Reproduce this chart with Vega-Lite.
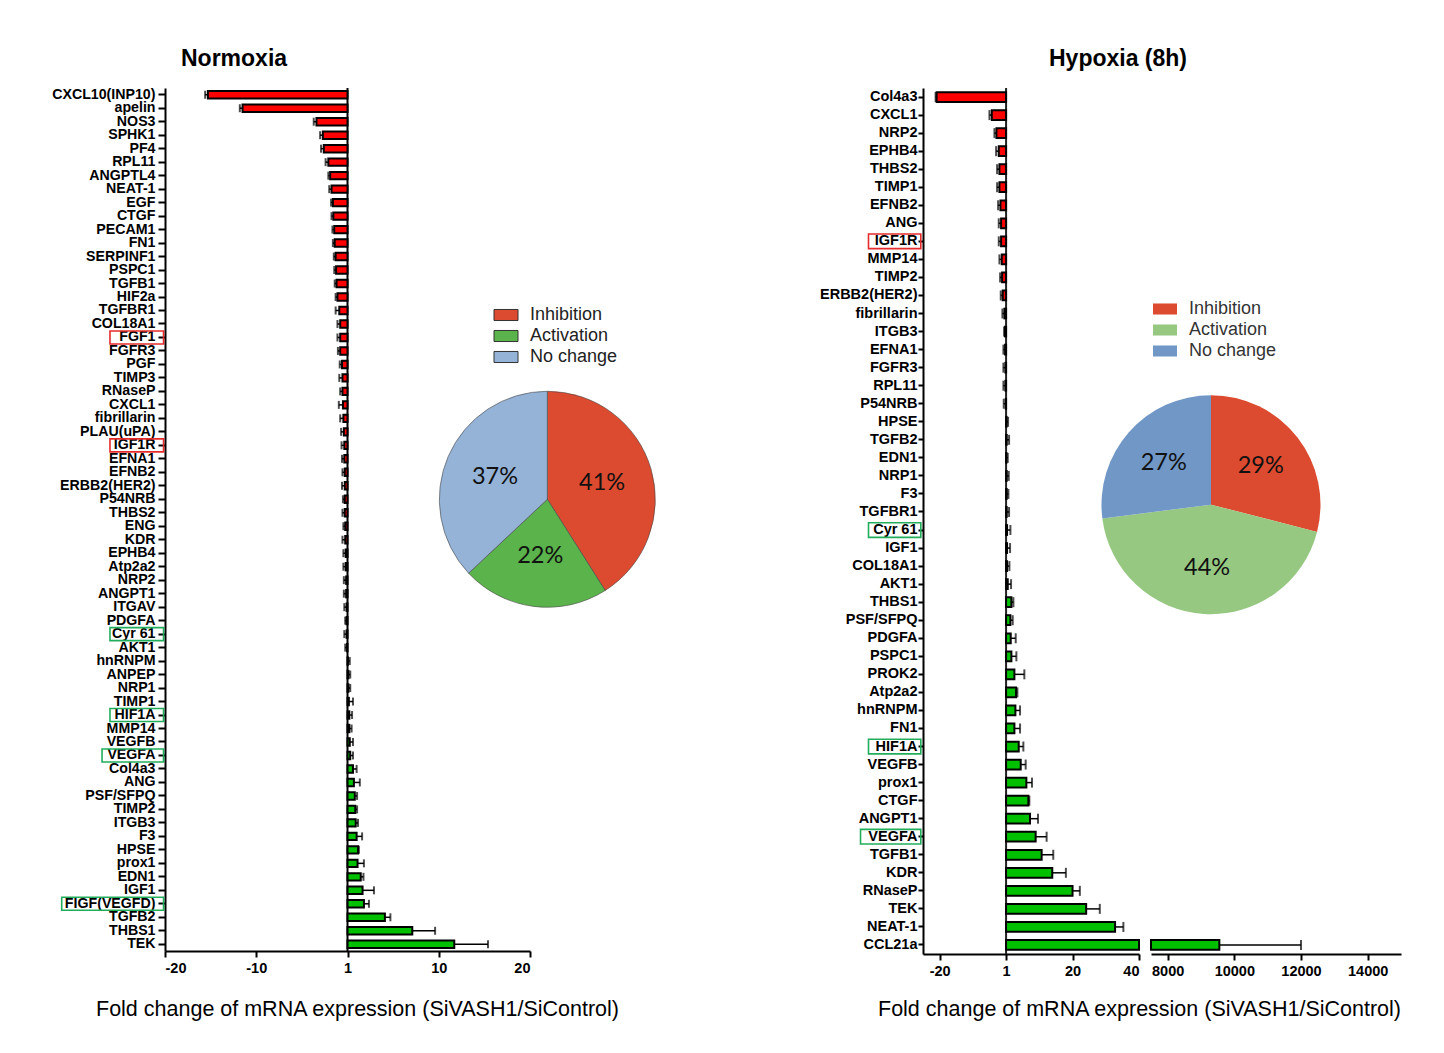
{
  "$schema": "https://vega.github.io/schema/vega-lite/v6.json",
  "background": "white",
  "padding": {"left": 51, "top": 48, "right": 10, "bottom": 10},
  "spacing": 162,
  "resolve": {"scale": {"color": "independent"}, "legend": {"color": "independent"}},
  "config": {
    "view": {"stroke": null},
    "font": "Liberation Sans",
    "axis": {"domainColor": "black", "domainWidth": 2, "tickColor": "black", "tickWidth": 2, "labelColor": "black", "labelFont": "Liberation Sans", "labelFontWeight": "bold", "grid": false, "titleFont": "Liberation Sans", "titleFontWeight": "normal", "titleFontSize": 21.5, "titleColor": "black"}
  },
  "datasets": {
    "normoxia": [
      {"gene": "CXCL10(INP10)", "fc": -15.3, "errEnd": -15.6},
      {"gene": "apelin", "fc": -11.5, "errEnd": -11.8},
      {"gene": "NOS3", "fc": -3.4, "errEnd": -3.7},
      {"gene": "SPHK1", "fc": -2.7, "errEnd": -3.0},
      {"gene": "PF4", "fc": -2.6, "errEnd": -2.9},
      {"gene": "RPL11", "fc": -2.1, "errEnd": -2.4},
      {"gene": "ANGPTL4", "fc": -1.9, "errEnd": -2.1},
      {"gene": "NEAT-1", "fc": -1.75, "errEnd": -2.0},
      {"gene": "EGF", "fc": -1.6, "errEnd": -1.8},
      {"gene": "CTGF", "fc": -1.55, "errEnd": -1.75},
      {"gene": "PECAM1", "fc": -1.45, "errEnd": -1.65},
      {"gene": "FN1", "fc": -1.4, "errEnd": -1.6},
      {"gene": "SERPINF1", "fc": -1.3, "errEnd": -1.5},
      {"gene": "PSPC1", "fc": -1.25, "errEnd": -1.45},
      {"gene": "TGFB1", "fc": -1.2, "errEnd": -1.4},
      {"gene": "HIF2a", "fc": -1.1, "errEnd": -1.3},
      {"gene": "TGFBR1", "fc": -0.9, "errEnd": -1.3},
      {"gene": "COL18A1", "fc": -0.8, "errEnd": -1.1},
      {"gene": "FGF1", "fc": -0.8, "errEnd": -1.1, "highlight": "inhibition"},
      {"gene": "FGFR3", "fc": -0.8, "errEnd": -1.05},
      {"gene": "PGF", "fc": -0.6, "errEnd": -0.85},
      {"gene": "TIMP3", "fc": -0.55, "errEnd": -0.9},
      {"gene": "RNaseP", "fc": -0.55, "errEnd": -0.8},
      {"gene": "CXCL1", "fc": -0.5, "errEnd": -0.95},
      {"gene": "fibrillarin", "fc": -0.45, "errEnd": -0.8},
      {"gene": "PLAU(uPA)", "fc": -0.4, "errEnd": -0.7},
      {"gene": "IGF1R", "fc": -0.35, "errEnd": -0.65, "highlight": "inhibition"},
      {"gene": "EFNA1", "fc": -0.35, "errEnd": -0.6},
      {"gene": "EFNB2", "fc": -0.3, "errEnd": -0.55},
      {"gene": "ERBB2(HER2)", "fc": -0.3, "errEnd": -0.6},
      {"gene": "P54NRB", "fc": -0.3, "errEnd": -0.5},
      {"gene": "THBS2", "fc": -0.3, "errEnd": -0.55},
      {"gene": "ENG", "fc": -0.25, "errEnd": -0.45},
      {"gene": "KDR", "fc": -0.25, "errEnd": -0.55},
      {"gene": "EPHB4", "fc": -0.2, "errEnd": -0.45},
      {"gene": "Atp2a2", "fc": -0.2, "errEnd": -0.45},
      {"gene": "NRP2", "fc": -0.15, "errEnd": -0.4},
      {"gene": "ANGPT1", "fc": -0.15, "errEnd": -0.4},
      {"gene": "ITGAV", "fc": -0.1, "errEnd": -0.35},
      {"gene": "PDGFA", "fc": -0.1, "errEnd": -0.25},
      {"gene": "Cyr 61", "fc": -0.1, "errEnd": -0.35, "highlight": "activation"},
      {"gene": "AKT1", "fc": -0.05, "errEnd": -0.25},
      {"gene": "hnRNPM", "fc": 0.05, "errEnd": 0.25},
      {"gene": "ANPEP", "fc": 0.1, "errEnd": 0.3},
      {"gene": "NRP1", "fc": 0.1, "errEnd": 0.3},
      {"gene": "TIMP1", "fc": 0.15, "errEnd": 0.6},
      {"gene": "HIF1A", "fc": 0.2, "errEnd": 0.5, "highlight": "activation"},
      {"gene": "MMP14", "fc": 0.2, "errEnd": 0.45},
      {"gene": "VEGFB", "fc": 0.25, "errEnd": 0.6},
      {"gene": "VEGFA", "fc": 0.3, "errEnd": 0.6, "highlight": "activation"},
      {"gene": "Col4a3", "fc": 0.6, "errEnd": 1.0},
      {"gene": "ANG", "fc": 0.7, "errEnd": 1.35},
      {"gene": "PSF/SFPQ", "fc": 0.8, "errEnd": 1.05},
      {"gene": "TIMP2", "fc": 0.85, "errEnd": 1.05},
      {"gene": "ITGB3", "fc": 0.9, "errEnd": 1.15},
      {"gene": "F3", "fc": 1.0, "errEnd": 1.6},
      {"gene": "HPSE", "fc": 1.15, "errEnd": 1.25},
      {"gene": "prox1", "fc": 1.1, "errEnd": 1.8},
      {"gene": "EDN1", "fc": 1.45, "errEnd": 1.75},
      {"gene": "IGF1", "fc": 1.65, "errEnd": 2.9},
      {"gene": "FIGF(VEGFD)", "fc": 1.8, "errEnd": 2.35, "highlight": "activation"},
      {"gene": "TGFB2", "fc": 4.1, "errEnd": 4.7},
      {"gene": "THBS1", "fc": 7.1, "errEnd": 9.6},
      {"gene": "TEK", "fc": 11.7, "errEnd": 15.4}
    ],
    "hypoxia": [
      {"gene": "Col4a3", "fc": -20.9, "errEnd": -21.2},
      {"gene": "CXCL1", "fc": -4.3, "errEnd": -5.0},
      {"gene": "NRP2", "fc": -2.9, "errEnd": -3.5},
      {"gene": "EPHB4", "fc": -2.2, "errEnd": -3.0},
      {"gene": "THBS2", "fc": -2.0, "errEnd": -2.7},
      {"gene": "TIMP1", "fc": -2.0, "errEnd": -2.7},
      {"gene": "EFNB2", "fc": -1.7, "errEnd": -2.4},
      {"gene": "ANG", "fc": -1.5, "errEnd": -2.2},
      {"gene": "IGF1R", "fc": -1.5, "errEnd": -2.2, "highlight": "inhibition"},
      {"gene": "MMP14", "fc": -1.3, "errEnd": -2.0},
      {"gene": "TIMP2", "fc": -1.2, "errEnd": -1.8},
      {"gene": "ERBB2(HER2)", "fc": -1.0, "errEnd": -1.6},
      {"gene": "fibrillarin", "fc": -0.5, "errEnd": -1.1},
      {"gene": "ITGB3", "fc": -0.3, "errEnd": -0.6},
      {"gene": "EFNA1", "fc": -0.3, "errEnd": -0.8},
      {"gene": "FGFR3", "fc": -0.2, "errEnd": -0.8},
      {"gene": "RPL11", "fc": -0.2, "errEnd": -0.8},
      {"gene": "P54NRB", "fc": -0.1, "errEnd": -0.7},
      {"gene": "HPSE", "fc": 0.15, "errEnd": 0.6},
      {"gene": "TGFB2", "fc": 0.2, "errEnd": 0.9},
      {"gene": "EDN1", "fc": 0.1, "errEnd": 0.5},
      {"gene": "NRP1", "fc": 0.2, "errEnd": 0.8},
      {"gene": "F3", "fc": 0.2, "errEnd": 0.7},
      {"gene": "TGFBR1", "fc": 0.2, "errEnd": 0.9},
      {"gene": "Cyr 61", "fc": 0.3, "errEnd": 1.3, "highlight": "activation"},
      {"gene": "IGF1", "fc": 0.3, "errEnd": 1.2},
      {"gene": "COL18A1", "fc": 0.3, "errEnd": 1.0},
      {"gene": "AKT1", "fc": 0.5, "errEnd": 1.5},
      {"gene": "THBS1", "fc": 1.6, "errEnd": 2.2},
      {"gene": "PSF/SFPQ", "fc": 1.3, "errEnd": 2.0},
      {"gene": "PDGFA", "fc": 1.4, "errEnd": 2.9},
      {"gene": "PSPC1", "fc": 1.6, "errEnd": 3.1},
      {"gene": "PROK2", "fc": 2.5, "errEnd": 5.5},
      {"gene": "Atp2a2", "fc": 3.0, "errEnd": 3.4},
      {"gene": "hnRNPM", "fc": 2.8, "errEnd": 4.2},
      {"gene": "FN1", "fc": 2.5, "errEnd": 4.2},
      {"gene": "HIF1A", "fc": 3.8, "errEnd": 5.2, "highlight": "activation"},
      {"gene": "VEGFB", "fc": 4.4, "errEnd": 5.9},
      {"gene": "prox1", "fc": 6.1, "errEnd": 7.8},
      {"gene": "CTGF", "fc": 6.7, "errEnd": 7.0},
      {"gene": "ANGPT1", "fc": 7.2, "errEnd": 9.6},
      {"gene": "VEGFA", "fc": 8.9, "errEnd": 12.2, "highlight": "activation"},
      {"gene": "TGFB1", "fc": 10.7, "errEnd": 14.2},
      {"gene": "KDR", "fc": 13.9, "errEnd": 18.0},
      {"gene": "RNaseP", "fc": 20.0, "errEnd": 22.2},
      {"gene": "TEK", "fc": 24.1, "errEnd": 28.2},
      {"gene": "NEAT-1", "fc": 32.8, "errEnd": 35.3},
      {"gene": "CCL21a", "fc": 9550, "errEnd": 12000}
    ],
    "pie1": [
      {"category": "Inhibition", "pct": 0.41, "idx": 1},
      {"category": "Activation", "pct": 0.22, "idx": 2},
      {"category": "No change", "pct": 0.37, "idx": 3}
    ],
    "pie2": [
      {"category": "Inhibition", "pct": 0.29, "idx": 1},
      {"category": "Activation", "pct": 0.44, "idx": 2},
      {"category": "No change", "pct": 0.27, "idx": 3}
    ]
  },
  "hconcat": [
    {
      "title": {"text": "Normoxia", "anchor": "start", "frame": "group", "dx": 16, "fontSize": 23, "font": "Liberation Sans", "fontWeight": "bold", "color": "black", "offset": 16},
      "width": 365,
      "height": 863,
      "layer": [
        {
          "data": {"values": [{}]},
          "mark": {"type": "rule", "color": "black", "strokeWidth": 2},
          "encoding": {"x": {"datum": 0, "type": "quantitative"}}
        },
        {
          "data": {"name": "normoxia"},
          "encoding": {
            "y": {"field": "gene", "type": "nominal", "scale": {"domain": ["CXCL10(INP10)", "apelin", "NOS3", "SPHK1", "PF4", "RPL11", "ANGPTL4", "NEAT-1", "EGF", "CTGF", "PECAM1", "FN1", "SERPINF1", "PSPC1", "TGFB1", "HIF2a", "TGFBR1", "COL18A1", "FGF1", "FGFR3", "PGF", "TIMP3", "RNaseP", "CXCL1", "fibrillarin", "PLAU(uPA)", "IGF1R", "EFNA1", "EFNB2", "ERBB2(HER2)", "P54NRB", "THBS2", "ENG", "KDR", "EPHB4", "Atp2a2", "NRP2", "ANGPT1", "ITGAV", "PDGFA", "Cyr 61", "AKT1", "hnRNPM", "ANPEP", "NRP1", "TIMP1", "HIF1A", "MMP14", "VEGFB", "VEGFA", "Col4a3", "ANG", "PSF/SFPQ", "TIMP2", "ITGB3", "F3", "HPSE", "prox1", "EDN1", "IGF1", "FIGF(VEGFD)", "TGFB2", "THBS1", "TEK"], "paddingInner": 0.45, "paddingOuter": 0.225}, "axis": {"title": null, "labelFontSize": 14.2, "labelPadding": 3, "tickSize": 7, "labelOverlap": false}}
          },
          "layer": [
            {
              "mark": {"type": "rule", "color": "black", "strokeWidth": 1.5},
              "encoding": {"x": {"field": "fc", "type": "quantitative"}, "x2": {"field": "errEnd"}}
            },
            {
              "mark": {"type": "tick", "color": "black", "thickness": 2, "size": 8},
              "encoding": {"x": {"field": "errEnd", "type": "quantitative"}}
            },
            {
              "mark": {"type": "bar", "stroke": "black", "strokeWidth": 2},
              "encoding": {
                "x": {"field": "fc", "type": "quantitative", "scale": {"domain": [-20, 20], "nice": false, "zero": false}, "axis": {"values": [-20, -10, 0, 10, 20], "labelExpr": "datum.value == 0 ? '1' : (datum.value < 0 ? '-' + abs(datum.value) : '' + datum.value)", "title": "Fold change of mRNA expression (SiVASH1/SiControl)", "titleX": 192, "titlePadding": 24, "labelFontSize": 14.5, "labelPadding": 4, "tickSize": 6}},
                "fill": {"condition": {"test": "datum.fc < 0", "value": "#ff0000"}, "value": "#00c000"}
              }
            },
            {
              "transform": [{"filter": "datum.highlight != null && datum.gene != 'VEGFA' && datum.gene != 'FIGF(VEGFD)'"}],
              "mark": {"type": "rect", "filled": false, "strokeWidth": 1.6, "height": {"band": 1.75}},
              "encoding": {"x": {"datum": -26.03, "type": "quantitative"}, "x2": {"datum": -20.16}, "stroke": {"field": "highlight", "type": "nominal", "scale": {"domain": ["inhibition", "activation"], "range": ["#e52b2b", "#22ad5c"]}, "legend": null}}
            },
            {
              "transform": [{"filter": "datum.gene == 'VEGFA'"}],
              "mark": {"type": "rect", "filled": false, "strokeWidth": 1.6, "height": {"band": 1.75}},
              "encoding": {"x": {"datum": -26.9, "type": "quantitative"}, "x2": {"datum": -20.16}, "stroke": {"field": "highlight", "type": "nominal", "legend": null}}
            },
            {
              "transform": [{"filter": "datum.gene == 'FIGF(VEGFD)'"}],
              "mark": {"type": "rect", "filled": false, "strokeWidth": 1.6, "height": {"band": 1.75}},
              "encoding": {"x": {"datum": -31.32, "type": "quantitative"}, "x2": {"datum": -20.16}, "stroke": {"field": "highlight", "type": "nominal", "legend": null}}
            }
          ]
        },
        {
          "data": {"name": "pie1"},
          "encoding": {
            "x": {"datum": 21.9, "type": "quantitative"},
            "y": {"datum": "P54NRB", "type": "nominal"},
            "theta": {"field": "pct", "type": "quantitative", "stack": true},
            "order": {"field": "idx", "type": "quantitative"}
          },
          "layer": [
            {
              "mark": {"type": "arc", "radius": 108, "stroke": "#444", "strokeWidth": 0.6},
              "encoding": {"color": {"field": "category", "type": "nominal", "scale": {"domain": ["Inhibition", "Activation", "No change"], "range": ["#dc4b2f", "#5ab34b", "#94b3d7"]}, "legend": {"orient": "none", "legendX": 332, "legendY": 218, "title": null, "symbolType": "M-2,-0.92H2V0.92H-2Z", "symbolSize": 144, "symbolStrokeColor": "#333", "symbolStrokeWidth": 1, "labelFontSize": 18, "labelFont": "Liberation Sans", "labelColor": "#222", "labelOffset": 15, "rowPadding": 3, "padding": 0}}}
            },
            {
              "mark": {"type": "text", "radius": 57, "font": "Lato", "fontSize": 23.5, "color": "#111"},
              "encoding": {"text": {"field": "pct", "type": "quantitative", "format": ".0%"}}
            }
          ]
        }
      ]
    },
    {
      "title": {"text": "Hypoxia (8h)", "anchor": "start", "frame": "group", "dx": 126, "fontSize": 23, "font": "Liberation Sans", "fontWeight": "bold", "color": "black", "offset": 16},
      "width": 478,
      "height": 866,
      "resolve": {"scale": {"x": "independent"}, "axis": {"x": "independent"}},
      "layer": [
        {
          "layer": [
            {
              "data": {"values": [{}]},
              "mark": {"type": "rule", "color": "#222", "strokeWidth": 2},
              "encoding": {"x": {"datum": 0, "type": "quantitative", "scale": {"domain": [-25, 40], "range": [0, 216], "nice": false, "zero": false, "clamp": true}, "axis": {"orient": "bottom", "values": [-20, 0, 20, 40], "labelExpr": "datum.value == 0 ? '1' : (datum.value < 0 ? '-' + abs(datum.value) : '' + datum.value)", "title": "Fold change of mRNA expression (SiVASH1/SiControl)", "titleX": 216, "titlePadding": 21, "labelFontSize": 14.5, "labelPadding": 4, "tickSize": 6}}}
            },
            {
              "data": {"name": "hypoxia"},
              "transform": [{"filter": "datum.gene != 'CCL21a'"}],
              "mark": {"type": "rule", "color": "black", "strokeWidth": 1.5},
              "encoding": {
                "y": {"field": "gene", "type": "nominal"},
                "x": {"field": "fc", "type": "quantitative", "scale": {"domain": [-25, 40], "range": [0, 216], "nice": false, "zero": false, "clamp": true}, "axis": {"orient": "bottom", "values": [-20, 0, 20, 40], "labelExpr": "datum.value == 0 ? '1' : (datum.value < 0 ? '-' + abs(datum.value) : '' + datum.value)", "title": "Fold change of mRNA expression (SiVASH1/SiControl)", "titleX": 216, "titlePadding": 21, "labelFontSize": 14.5, "labelPadding": 4, "tickSize": 6}},
                "x2": {"field": "errEnd"}
              }
            },
            {
              "data": {"name": "hypoxia"},
              "transform": [{"filter": "datum.gene != 'CCL21a'"}],
              "mark": {"type": "tick", "color": "black", "thickness": 2, "size": 10},
              "encoding": {
                "y": {"field": "gene", "type": "nominal"},
                "x": {"field": "errEnd", "type": "quantitative"}
              }
            },
            {
              "data": {"name": "hypoxia"},
              "mark": {"type": "bar", "stroke": "black", "strokeWidth": 2},
              "encoding": {
                "y": {"field": "gene", "type": "nominal", "scale": {"domain": ["Col4a3", "CXCL1", "NRP2", "EPHB4", "THBS2", "TIMP1", "EFNB2", "ANG", "IGF1R", "MMP14", "TIMP2", "ERBB2(HER2)", "fibrillarin", "ITGB3", "EFNA1", "FGFR3", "RPL11", "P54NRB", "HPSE", "TGFB2", "EDN1", "NRP1", "F3", "TGFBR1", "Cyr 61", "IGF1", "COL18A1", "AKT1", "THBS1", "PSF/SFPQ", "PDGFA", "PSPC1", "PROK2", "Atp2a2", "hnRNPM", "FN1", "HIF1A", "VEGFB", "prox1", "CTGF", "ANGPT1", "VEGFA", "TGFB1", "KDR", "RNaseP", "TEK", "NEAT-1", "CCL21a"], "paddingInner": 0.46, "paddingOuter": 0.23}, "axis": {"title": null, "labelFontSize": 14.5, "labelPadding": 1, "tickSize": 5, "labelOverlap": false}},
                "x": {"field": "fc", "type": "quantitative"},
                "fill": {"condition": {"test": "datum.fc < 0", "value": "#ff0000"}, "value": "#00c000"}
              }
            }
          ]
        },
        {
          "layer": [
            {
              "data": {"name": "hypoxia"},
              "transform": [{"filter": "datum.gene == 'CCL21a'"}],
              "mark": {"type": "rule", "color": "black", "strokeWidth": 1.5},
              "encoding": {
                "y": {"field": "gene", "type": "nominal"},
                "x": {"field": "fc", "type": "quantitative", "scale": {"domain": [7500, 15000], "range": [228, 478], "nice": false, "zero": false}, "axis": {"orient": "bottom", "values": [8000, 10000, 12000, 14000], "format": "d", "title": null, "labelFontSize": 14.5, "labelPadding": 4, "tickSize": 6}},
                "x2": {"field": "errEnd"}
              }
            },
            {
              "data": {"name": "hypoxia"},
              "transform": [{"filter": "datum.gene == 'CCL21a'"}],
              "mark": {"type": "tick", "color": "black", "thickness": 2, "size": 10},
              "encoding": {
                "y": {"field": "gene", "type": "nominal"},
                "x": {"field": "errEnd", "type": "quantitative", "axis": {"orient": "bottom", "values": [8000, 10000, 12000, 14000], "format": "d", "title": null, "labelFontSize": 14.5, "labelPadding": 4, "tickSize": 6}}
              }
            },
            {
              "data": {"name": "hypoxia"},
              "transform": [{"filter": "datum.gene == 'CCL21a'"}],
              "mark": {"type": "bar", "stroke": "black", "strokeWidth": 2, "fill": "#00c000"},
              "encoding": {
                "y": {"field": "gene", "type": "nominal"},
                "x": {"field": "fc", "type": "quantitative", "axis": {"orient": "bottom", "values": [8000, 10000, 12000, 14000], "format": "d", "title": null, "labelFontSize": 14.5, "labelPadding": 4, "tickSize": 6}},
                "x2": {"datum": 7500}
              }
            },
            {
              "data": {"name": "pie2"},
              "encoding": {
                "x": {"datum": 9300, "type": "quantitative", "axis": {"orient": "bottom", "values": [8000, 10000, 12000, 14000], "format": "d", "title": null, "labelFontSize": 14.5, "labelPadding": 4, "tickSize": 6}},
                "y": {"datum": "TGFBR1", "type": "nominal", "bandPosition": -0.25},
                "theta": {"field": "pct", "type": "quantitative", "stack": true},
                "order": {"field": "idx", "type": "quantitative"}
              },
              "layer": [
                {
                  "mark": {"type": "arc", "radius": 109.5},
                  "encoding": {"color": {"field": "category", "type": "nominal", "scale": {"domain": ["Inhibition", "Activation", "No change"], "range": ["#dc4b30", "#96c882", "#7097c5"]}, "legend": {"orient": "none", "legendX": 233, "legendY": 212, "title": null, "symbolType": "M-2,-0.92H2V0.92H-2Z", "symbolSize": 144, "symbolStrokeWidth": 0, "labelFontSize": 18, "labelFont": "Liberation Sans", "labelColor": "#333", "labelOffset": 15, "rowPadding": 3, "padding": 0}}}
                },
                {
                  "mark": {"type": "text", "radius": 63, "font": "Lato", "fontSize": 23.5, "color": "#111"},
                  "encoding": {"text": {"field": "pct", "type": "quantitative", "format": ".0%"}}
                }
              ]
            }
          ]
        },
        {
          "data": {"name": "hypoxia"},
          "layer": [
            {
              "transform": [{"filter": "datum.highlight != null && datum.gene != 'VEGFA'"}],
              "mark": {"type": "rect", "filled": false, "strokeWidth": 1.6, "height": {"band": 1.5}},
              "encoding": {
                "y": {"field": "gene", "type": "nominal"},
                "x": {"datum": -41.4, "type": "quantitative", "scale": {"domain": [-25, 40], "range": [0, 216], "nice": false, "zero": false}, "axis": null},
                "x2": {"datum": -25.66},
                "stroke": {"field": "highlight", "type": "nominal", "scale": {"domain": ["inhibition", "activation"], "range": ["#e52b2b", "#22ad5c"]}, "legend": null}
              }
            },
            {
              "transform": [{"filter": "datum.gene == 'VEGFA'"}],
              "mark": {"type": "rect", "filled": false, "strokeWidth": 1.6, "height": {"band": 1.5}},
              "encoding": {
                "y": {"field": "gene", "type": "nominal"},
                "x": {"datum": -43.8, "type": "quantitative", "axis": null},
                "x2": {"datum": -25.66},
                "stroke": {"field": "highlight", "type": "nominal", "legend": null}
              }
            }
          ]
        }
      ]
    }
  ]
}
